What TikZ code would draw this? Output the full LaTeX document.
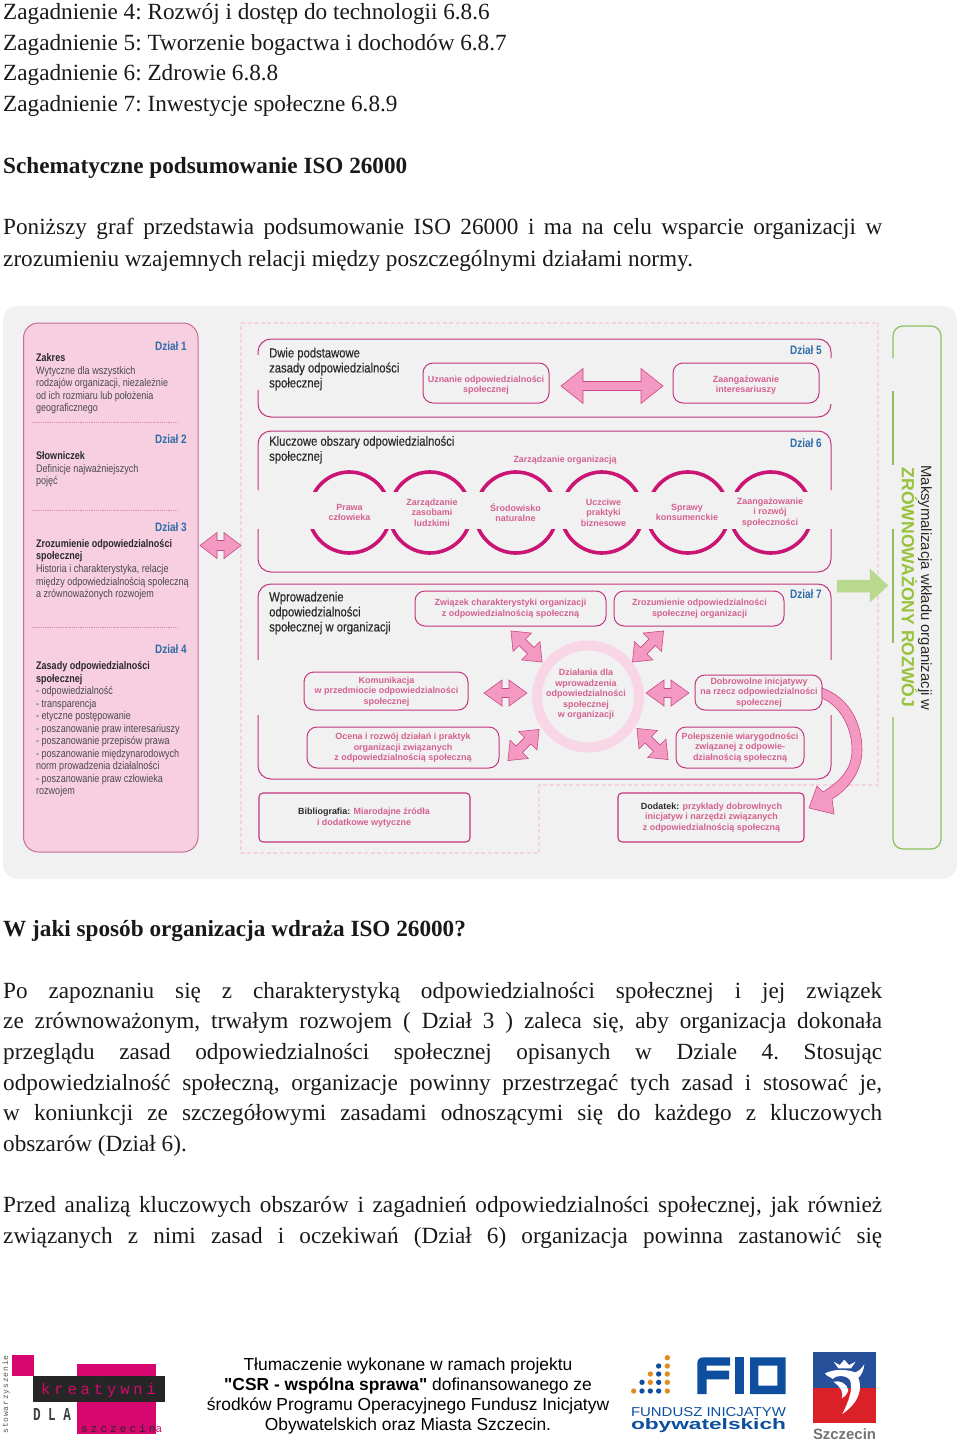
\documentclass[tikz,border=0pt]{standalone}
\usepackage{fontspec}
\usepackage{graphicx}
\setmainfont{Liberation Serif}
\newfontfamily\sansf{Liberation Sans}
\newfontfamily\narf[FakeStretch=0.82]{Liberation Sans}
\newfontfamily\nartf[FakeStretch=0.84,FakeBold=0.3]{Liberation Sans}
\newfontfamily\monof{Liberation Mono}
\newfontfamily\monoa[LetterSpace=25]{Liberation Mono}
\newfontfamily\monob[LetterSpace=28]{Liberation Mono}
\newfontfamily\monoc[LetterSpace=10.5]{Liberation Mono}
\definecolor{bgg}{HTML}{F1F1F2}
\definecolor{panel}{HTML}{F7CFE0}
\definecolor{panelln}{HTML}{C76E96}
\definecolor{boxln}{HTML}{C2357F}
\definecolor{arcc}{HTML}{CB1574}
\definecolor{pinktxt}{HTML}{D4608F}
\definecolor{ringc}{HTML}{F8D6E6}
\definecolor{arrf}{HTML}{F49AC2}
\definecolor{arrl}{HTML}{C94A86}
\definecolor{dashc}{HTML}{F4D3E1}
\definecolor{blu}{HTML}{2F6DA8}
\definecolor{grn}{HTML}{8DC05A}
\definecolor{grnt}{HTML}{97C23C}
\definecolor{grnf}{HTML}{B9D98E}
\definecolor{darkt}{HTML}{4A4A4A}
\definecolor{headt}{HTML}{2A2A2A}
\definecolor{kmag}{HTML}{D6086F}
\definecolor{fblue}{HTML}{0D4F9E}
\definecolor{forg}{HTML}{E38A1E}
\definecolor{szblue}{HTML}{27509B}
\definecolor{szred}{HTML}{DA2128}
\tikzset{
  body/.style={anchor=base west,inner sep=0,text=black!90,font=\fontsize{23.2}{26}\selectfont\frenchspacing},
  bodyb/.style={body,font=\fontsize{23.2}{26}\selectfont\bfseries},
  pan/.style={anchor=west,inner sep=0,text=darkt,font=\narf\fontsize{11}{12.5}\selectfont,align=left},
  panb/.style={anchor=west,inner sep=0,text=headt,font=\narf\bfseries\fontsize{11}{12.5}\selectfont,align=left},
  dzial/.style={anchor=east,inner sep=0,text=blu,font=\narf\bfseries\fontsize{12.2}{14}\selectfont},
  boxt/.style={anchor=west,inner sep=0,text=headt,font=\nartf\fontsize{13.4}{15}\selectfont,align=left},
  pinkl/.style={inner sep=0,yshift=-.6pt,text=pinktxt,align=center,font=\sansf\bfseries\fontsize{8.95}{10.5}\selectfont},
  sec/.style={draw=boxln,line width=1,rounded corners=13},
  inbox/.style={draw=boxln,line width=1,rounded corners=10},
  sqbox/.style={draw=boxln,line width=1.1,rounded corners=4},
  arcl/.style={draw=arcc,line width=3.6},
  arr/.style={fill=arrf,draw=arrl,line width=.6,line join=miter},
  sepl/.style={draw=panelln!80,line width=.7,dash pattern=on 1.2 off 1},
  foot/.style={inner sep=0,text=black,font=\sansf\fontsize{17.4}{20}\selectfont},
}
\newcommand\dbl[7]{\draw[arr,shift={(#1,#2)},rotate=#3]
  (-#4,0)--({-#4+#6},-#5)--({-#4+#6},-#7)--({#4-#6},-#7)--({#4-#6},-#5)--(#4,0)--({#4-#6},#5)--({#4-#6},#7)--({-#4+#6},#7)--({-#4+#6},#5)--cycle;}
\newcommand\ringarc[1]{%
  \begin{scope}\clip ({#1-50},460) rectangle ({#1+50},491);
  \draw[arcl] (#1,512) ++(-165:40) arc[start angle=-165,end angle=-15,radius=40];\end{scope}
  \begin{scope}\clip ({#1-50},529) rectangle ({#1+50},560);
  \draw[arcl] (#1,512) ++(170:41) arc[start angle=170,end angle=10,radius=41];\end{scope}}
\begin{document}
\begin{tikzpicture}[x=1pt,y=-1pt]
\useasboundingbox (0,0) rectangle (960,1447);
\fill[white] (0,0) rectangle (960,1447);
% top text
\node[body] (l1) at (3,20) {Zagadnienie 4: Rozwój i dostęp do technologii 6.8.6};
\node[body] (l2) at (3,50.5) {Zagadnienie 5: Tworzenie bogactwa i dochodów 6.8.7};
\node[body] (l3) at (3,81) {Zagadnienie 6: Zdrowie 6.8.8};
\node[body] (l4) at (3,112) {Zagadnienie 7: Inwestycje społeczne 6.8.9};
\node[bodyb] (l5) at (3,174) {Schematyczne podsumowanie ISO 26000};
\node[body] (l6) at (3,235) {\makebox[879pt][s]{Poniższy graf przedstawia podsumowanie ISO 26000 i ma na celu wsparcie organizacji w}};
\node[body] (l7) at (3,266) {zrozumieniu wzajemnych relacji między poszczególnymi działami normy.};
% grey panel
\fill[bgg,rounded corners=15] (3,306) rectangle (957,879);
% dashed frame
\draw[dashc,line width=1.7,dash pattern=on 4 off 2.5] (241,323)--(878,323)--(878,785)--(539,785)--(539,853)--(241,853)--cycle;
% left pink panel
\draw[fill=panel,draw=panelln,line width=1,rounded corners=15] (23.5,323) rectangle (198,852);
\foreach \yy in {422.7,510.7,627.7}{\draw[sepl] (32,\yy)--(179,\yy);}
\node[dzial] (d1) at (187,346.5) {Dział 1};
\node[dzial] (d2) at (187,439.5) {Dział 2};
\node[dzial] (d3) at (187,527) {Dział 3};
\node[dzial] (d4) at (187,649.5) {Dział 4};
\node[panb,anchor=north west] (p1) at (36,353) {Zakres};
\node[pan,anchor=north west] (p2) at (36,366) {Wytyczne dla wszystkich\\rodzajów organizacji, niezależnie\\od ich rozmiaru lub położenia\\geograficznego};
\node[panb,anchor=north west] (p3) at (36,451.5) {Słowniczek};
\node[pan,anchor=north west] (p4) at (36,464) {Definicje najważniejszych\\pojęć};
\node[panb,anchor=north west] (p5) at (36,539) {Zrozumienie odpowiedzialności\\społecznej};
\node[pan,anchor=north west] (p6) at (36,564.5) {Historia i charakterystyka, relacje\\między odpowiedzialnością społeczną\\a zrównoważonych rozwojem};
\node[panb,anchor=north west] (p7) at (36,661.5) {Zasady odpowiedzialności\\społecznej};
\node[pan,anchor=north west] (p8) at (36,686.5) {- odpowiedzialność\\- transparencja\\- etyczne postępowanie\\- poszanowanie praw interesariuszy\\- poszanowanie przepisów prawa\\- poszanowanie międzynarodowych\\norm prowadzenia działalności\\- poszanowanie praw człowieka\\rozwojem};
\dbl{220.5}{545.5}{0}{20.5}{13}{17}{5}
% section frames
\draw[sec] (258,355)--(258,339)--(831,339)--(831,358);
\draw[sec] (831,404)--(831,417)--(258,417)--(258,390);
\draw[sec] (258,490)--(258,431)--(831,431)--(831,490);
\draw[sec] (831,529)--(831,572)--(258,572)--(258,529);
\draw[sec] (258,660)--(258,584)--(831,584)--(831,660);
\draw[sec] (831,715)--(831,779)--(258,779)--(258,715);
% section 5
\node[boxt] (t5) at (269,369) {Dwie podstawowe\\zasady odpowiedzialności\\społecznej};
\node[dzial] (d5) at (822,350) {Dział 5};
\draw[inbox] (423,363) rectangle (549,403);
\node[pinkl] (u1) at (486,384.5) {Uznanie odpowiedzialności\\społecznej};
\draw[inbox] (673,363) rectangle (819,403);
\node[pinkl] (u2) at (746,384.5) {Zaangażowanie\\interesariuszy};
\dbl{612}{386}{0}{51}{17.5}{22}{4.5}
% section 6
\node[boxt] (t6) at (269,449.7) {Kluczowe obszary odpowiedzialności\\społecznej};
\node[dzial] (d6) at (822,443) {Dział 6};
\node[pinkl] (zo) at (565,460) {Zarządzanie organizacją};
\ringarc{349.5}\ringarc{430}\ringarc{516}\ringarc{602}\ringarc{688}\ringarc{771}
\node[pinkl] (c1) at (349.5,512) {Prawa\\człowieka};
\node[pinkl] (c2) at (432,512) {Zarządzanie\\zasobami\\ludzkimi};
\node[pinkl] (c3) at (515.5,512) {Środowisko\\naturalne};
\node[pinkl] (c4) at (603.5,512) {Uczciwe\\praktyki\\biznesowe};
\node[pinkl] (c5) at (687,512) {Sprawy\\konsumenckie};
\node[pinkl] (c6) at (770,512) {Zaangażowanie\\i rozwój\\społeczności};
% section 7
\node[boxt] (t7) at (269,613) {Wprowadzenie\\odpowiedzialności\\społecznej w organizacji};
\node[dzial] (d7) at (822,594) {Dział 7};
\draw[inbox] (415,591) rectangle (606,626);
\node[pinkl] (b1) at (510.5,608) {Związek charakterystyki organizacji\\z odpowiedzialnością społeczną};
\draw[inbox] (614,591) rectangle (784,626);
\node[pinkl] (b2) at (699.5,608) {Zrozumienie odpowiedzialności\\społecznej organizacji};
\draw[inbox] (304,672) rectangle (468,710);
\node[pinkl] (b3) at (386.5,691) {Komunikacja\\w przedmiocie odpowiedzialności\\społecznej};
\draw[inbox] (307,727) rectangle (499,768);
\node[pinkl] (b4) at (403,747.5) {Ocena i rozwój działań i praktyk\\organizacji związanych\\z odpowiedzialnością społeczną};
\draw[inbox] (695,675) rectangle (822,710);
\node[pinkl] (b5) at (759,692) {Dobrowolne inicjatywy\\na rzecz odpowiedzialności\\społecznej};
\draw[inbox] (676,727) rectangle (804,768);
\node[pinkl] (b6) at (740,747) {Polepszenie wiarygodności\\związanej z odpowie-\\działnością społeczną};
\draw[ringc,line width=10] (588,696.5) circle[radius=51];
\node[pinkl] (b7) at (586,694) {Działania dla\\wprowadzenia\\odpowiedzialności\\społecznej\\w organizacji};
\dbl{526.5}{646.5}{-45}{22}{13}{16}{4.5}
\dbl{648}{646.5}{45}{22}{13}{16}{4.5}
\dbl{523.5}{745}{45}{22}{13}{16}{4.5}
\dbl{652.5}{744}{-45}{22}{13}{16}{4.5}
\dbl{505.5}{693}{0}{21.5}{13}{18}{4.5}
\dbl{667.5}{693}{0}{21.5}{13}{18}{4.5}
% bottom boxes
\draw[sqbox] (259,793) rectangle (470,842);
\node[pinkl] (b8) at (364,817) {\textcolor{headt}{Bibliografia:} Miarodajne źródła\\i dodatkowe wytyczne};
\draw[sqbox] (618,793) rectangle (804,842);
\node[pinkl] (b9) at (711.5,817) {\textcolor{headt}{Dodatek:} przykłady dobrowlnych\\inicjatyw i narzędzi związanych\\z odpowiedzialnością społeczną};
% curved arrow
\draw[arr] (822,688) .. controls (848,697) and (862,722) .. (862,750) .. controls (862,770) and (850,788) .. (832,799)
  -- (834,814) -- (809,808) -- (817,786) -- (823,792) .. controls (842,780) and (852,768) .. (852,750) .. controls (852,727) and (840,706) .. (822,698) -- cycle;
% green arrow and frame
\draw[fill=grnf,draw=grn!60,line width=.5] (837,580)--(870,580)--(870,569)--(888,585.5)--(870,602)--(870,592)--(837,592)--cycle;
\draw[grn,line width=1.2,rounded corners=10] (893,358)--(893,326)--(941,326)--(941,849)--(893,849)--(893,717);
\draw[grn,line width=1.2] (893,391)--(893,465) (893,529)--(893,643);
\node[inner sep=0,rotate=-90,text=headt,font=\sansf\fontsize{14.85}{17}\selectfont] (g1) at (925,588) {Maksymalizacja wkładu organizacji w};
\node[inner sep=0,rotate=-90,text=grnt,font=\sansf\bfseries\fontsize{17.6}{19}\selectfont] (g2) at (909.5,587.5) {ZRÓWNOWAŻONY ROZWÓJ};
% lower text
\node[bodyb] (m1) at (3,936) {W jaki sposób organizacja wdraża ISO 26000?};
\node[body] (m2) at (3,998) {\makebox[879pt][s]{Po zapoznaniu się z charakterystyką odpowiedzialności społecznej i jej związek}};
\node[body] (m3) at (3,1028.5) {\makebox[879pt][s]{ze zrównoważonym, trwałym rozwojem ( Dział 3 ) zaleca się, aby organizacja dokonała}};
\node[body] (m4) at (3,1059) {\makebox[879pt][s]{przeglądu zasad odpowiedzialności społecznej opisanych w Dziale 4. Stosując}};
\node[body] (m5) at (3,1090) {\makebox[879pt][s]{odpowiedzialność społeczną, organizacje powinny przestrzegać tych zasad i stosować je,}};
\node[body] (m6) at (3,1120.5) {\makebox[879pt][s]{w koniunkcji ze szczegółowymi zasadami odnoszącymi się do każdego z kluczowych}};
\node[body] (m7) at (3,1151) {obszarów (Dział 6).};
\node[body] (m8) at (3,1212.5) {\makebox[879pt][s]{Przed analizą kluczowych obszarów i zagadnień odpowiedzialności społecznej, jak również}};
\node[body] (m9) at (3,1243) {\makebox[879pt][s]{związanych z nimi zasad i oczekiwań (Dział 6) organizacja powinna zastanowić się}};
% footer text
\node[foot] (f1) at (408,1366.3) {Tłumaczenie wykonane w ramach projektu};
\node[foot] (f2) at (408,1386.3) {\textbf{"CSR - wspólna sprawa"} dofinansowanego ze};
\node[foot] (f3) at (408,1406.3) {środków Programu Operacyjnego Fundusz Inicjatyw};
\node[foot] (f4) at (408,1426.3) {Obywatelskich oraz Miasta Szczecin.};
% kreatywni logo
\fill[kmag] (12,1355) rectangle (34,1376);
\fill[kmag] (77,1364) rectangle (156,1434);
\fill[black!85] (33,1376) rectangle (165,1402);
\node[inner sep=0,anchor=base west,text=kmag,font=\monoa\fontsize{15.5}{17}\selectfont] (k1) at (41,1394) {kreatywni};
\node[inner sep=0,text=black!75,font=\monof\bfseries] (k2) at (52,1414) {\resizebox{38pt}{12pt}{D L A}};
\node[inner sep=0,anchor=base west,text=black!85,font=\monob\fontsize{11}{12}\selectfont] (k3) at (81,1432) {szczecin\textcolor{kmag}{a}};
\node[inner sep=0,rotate=90,text=black!65,font=\monoc\fontsize{8}{10}\selectfont] (k4) at (6,1394.5) {stowarzyszenie};
% FIO logo
\begin{scope}[shift={(625,1350)},scale=1/3]
\foreach \px/\py in {26/123,127/123,76/97,127/97,76/72,127/72,127/48,127/23}{\fill[forg] (\px,\py) circle[radius=8];}
\foreach \px/\py in {51/123,76/123,101/123,51/97,101/97,101/72,101/48}{\fill[fblue] (\px,\py) circle[radius=8];}
\fill[fblue] (217,132)--(217,40) .. controls (217,28) and (224,22) .. (236,22) --(315,22)--(315,47)--(245,47)--(245,62)--(312,62)--(312,88)--(245,88)--(245,132)--cycle;
\fill[fblue] (330,22) rectangle (357,132);
\fill[fblue,even odd rule] (375,22) rectangle (482,132) (400,47) rectangle (457,107);
\end{scope}
\node[inner sep=0,text=fblue,font=\sansf] (o1) at (708.5,1412.5) {\resizebox{155pt}{9pt}{FUNDUSZ INICJATYW}};
\node[inner sep=0,text=fblue,font=\sansf\bfseries] (o2) at (708.5,1425.5) {\resizebox{155pt}{11pt}{obywatelskich}};
% Szczecin logo
\fill[szblue] (813,1352) rectangle (876,1388);
\fill[szred] (813,1388) rectangle (876,1423);
\begin{scope}[shift={(805,1345)},scale=1/3]
\fill[white] (100,70)--(86,50)--(104,60)--(118,44)--(132,60)--(152,50)--(138,70)--cycle;
\fill[white] (60,85) .. controls (85,72) and (125,72) .. (150,82) .. controls (160,80) and (170,70) .. (178,58) .. controls (176,78) and (168,92) .. (160,98) .. controls (172,130) and (165,170) .. (112,207) .. controls (130,170) and (145,135) .. (135,105) .. controls (120,88) and (95,90) .. (82,102) .. controls (78,95) and (65,95) .. (60,85) -- cycle;
\fill[white] (85,110) .. controls (105,105) and (125,115) .. (130,135) .. controls (128,145) and (120,155) .. (110,160) .. controls (115,145) and (112,130) .. (85,110) -- cycle;
\end{scope}
\node[inner sep=0,text=black!55,font=\sansf\bfseries] (s1) at (844.5,1434) {\resizebox{63pt}{!}{Szczecin}};
\end{tikzpicture}
\end{document}
